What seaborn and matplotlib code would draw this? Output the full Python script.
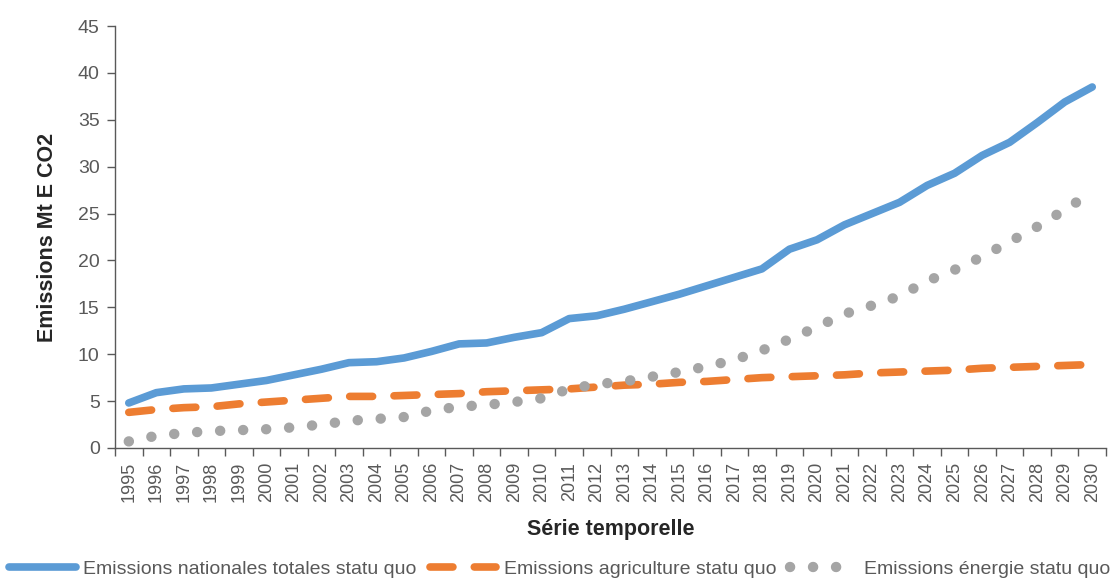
import pandas as pd
import seaborn as sns
import matplotlib.pyplot as plt

years = list(range(1995, 2031))

total = [4.8, 5.9, 6.3, 6.4, 6.8, 7.2, 7.8, 8.4, 9.1, 9.2,
         9.6, 10.3, 11.1, 11.2, 11.8, 12.3, 13.8, 14.1, 14.8, 15.6,
         16.4, 17.3, 18.2, 19.1, 21.2, 22.2, 23.8, 25.0, 26.2, 28.0,
         29.3, 31.2, 32.6, 34.7, 36.9, 38.5]

agriculture = [3.8, 4.1, 4.3, 4.4, 4.7, 4.9, 5.1, 5.3, 5.5, 5.5,
               5.6, 5.7, 5.8, 6.0, 6.1, 6.2, 6.3, 6.5, 6.7, 6.8,
               7.0, 7.1, 7.3, 7.5, 7.6, 7.7, 7.8, 8.0, 8.1, 8.2,
               8.3, 8.5, 8.6, 8.7, 8.8, 8.9]

energie = [0.7, 1.3, 1.6, 1.8, 1.9, 2.0, 2.2, 2.5, 2.9, 3.1,
           3.3, 4.0, 4.4, 4.6, 4.9, 5.3, 6.3, 6.8, 7.1, 7.6,
           8.1, 8.7, 9.4, 10.4, 11.6, 12.9, 14.3, 15.2, 16.2, 17.8,
           19.0, 20.4, 22.0, 23.6, 25.4, 27.3]

labels = ['Emissions nationales totales statu quo',
          'Emissions agriculture statu quo',
          'Emissions énergie statu quo']
colors = ['#5b9bd5', '#ed7d31', '#a5a5a5']

df = pd.DataFrame({'annee': years, labels[0]: total,
                   labels[1]: agriculture, labels[2]: energie})

sns.set_style('white')
plt.rcParams['font.family'] = ['Liberation Sans', 'DejaVu Sans']

fig = plt.figure(figsize=(11.2, 5.79), dpi=100)
ax = fig.add_axes([0.1027, 0.2263, 0.8848, 0.7287])

for lab, col in zip(labels, colors):
    sns.lineplot(data=df, x='annee', y=lab, ax=ax, color=col,
                 linewidth=5.5, label=lab, legend=False)

lines = ax.get_lines()
lines[0].set_solid_capstyle('round')
lines[1].set_dashes((3.0, 2.8))
lines[1].set_dash_capstyle('round')
# dotted line: zero-length dashes with round caps
lines[2].set_linewidth(7.5)
lines[2].set_dashes((0.01, 2.2))
lines[2].set_dash_capstyle('round')

ax.set_xlim(1994.5, 2030.5)
ax.set_ylim(0, 45)
ax.set_yticks(range(0, 46, 5))
ax.set_xticks(years)
ax.set_xticklabels([str(y) for y in years], rotation=90)
ax.set_xticks([y - 0.5 for y in years] + [2030.5], minor=True)

gray = '#595959'
ax.tick_params(axis='x', which='major', length=0, pad=10,
               labelsize=13, labelcolor=gray)
ax.tick_params(axis='x', which='minor', length=6, width=1,
               color=gray, direction='out', bottom=True)
ax.tick_params(axis='y', length=6, width=1, color=gray, pad=5,
               direction='out', left=True, labelsize=14, labelcolor=gray)

for side in ['top', 'right']:
    ax.spines[side].set_visible(False)
for side in ['left', 'bottom']:
    ax.spines[side].set_color(gray)
    ax.spines[side].set_linewidth(1)

ax.set_xlabel('Série temporelle', fontsize=15.5, fontweight='bold', labelpad=12)
ax.set_ylabel('Emissions Mt E CO2', fontsize=15.5, fontweight='bold', labelpad=14)

handles = ax.get_lines()
fig.legend(handles, labels, loc='lower center', bbox_to_anchor=(0.5, -0.028),
           ncol=3, frameon=False, fontsize=14, handlelength=3.4,
           handletextpad=0.4, columnspacing=0.7, labelcolor=gray)

fig.savefig('out.png', dpi=100)
